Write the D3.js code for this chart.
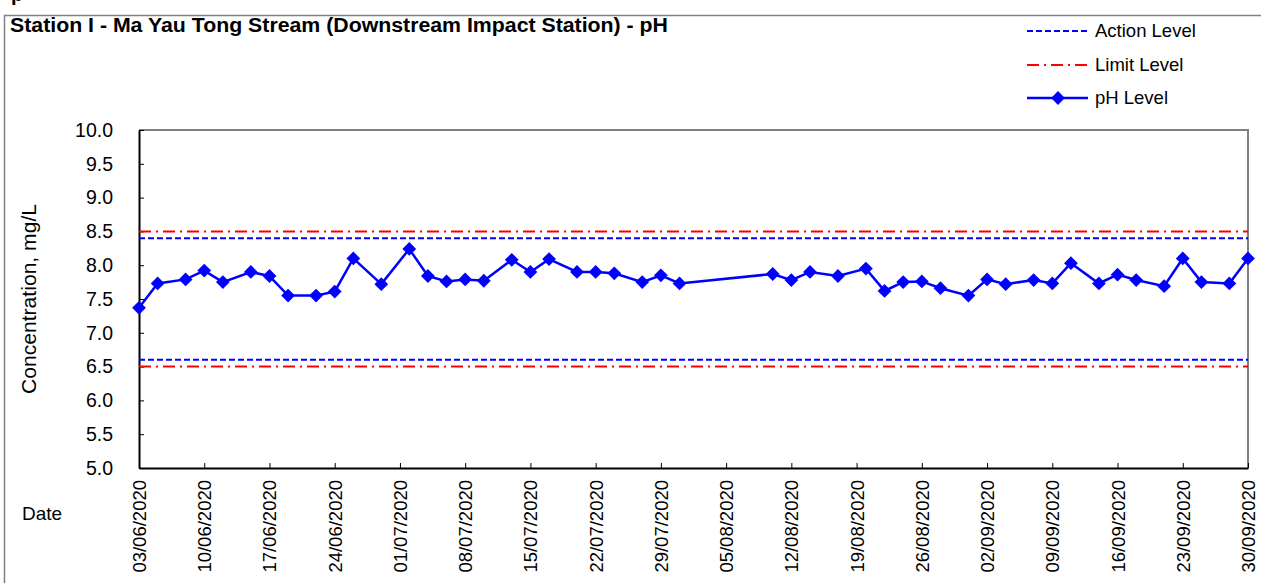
<!DOCTYPE html>
<html>
<head>
<meta charset="utf-8">
<title>Station I - pH</title>
<script src="https://cdn.jsdelivr.net/npm/d3@7"></script>
<style>
  body { margin: 0; background: #fff; }
  text { font-family: Arial, "Liberation Sans", sans-serif; fill: #000; }
</style>
</head>
<body>
<script>
// sampling dates and pH readings
var dates = ["03/06/2020","05/06/2020","08/06/2020","10/06/2020","12/06/2020","15/06/2020","17/06/2020",
  "19/06/2020","22/06/2020","24/06/2020","26/06/2020","29/06/2020","02/07/2020","04/07/2020","06/07/2020",
  "08/07/2020","10/07/2020","13/07/2020","15/07/2020","17/07/2020","20/07/2020","22/07/2020","24/07/2020",
  "27/07/2020","29/07/2020","31/07/2020","10/08/2020","12/08/2020","14/08/2020","17/08/2020","20/08/2020",
  "22/08/2020","24/08/2020","26/08/2020","28/08/2020","31/08/2020","02/09/2020","04/09/2020","07/09/2020",
  "09/09/2020","11/09/2020","14/09/2020","16/09/2020","18/09/2020","21/09/2020","23/09/2020","25/09/2020",
  "28/09/2020","30/09/2020"];
var phValues = [7.37,7.73,7.79,7.92,7.75,7.90,7.84,7.55,7.55,7.61,8.10,7.72,8.24,7.84,7.76,
  7.79,7.77,8.08,7.90,8.09,7.90,7.90,7.88,7.75,7.85,7.73,7.87,7.78,7.90,7.84,7.95,
  7.62,7.75,7.76,7.66,7.55,7.79,7.72,7.78,7.73,8.03,7.73,7.86,7.78,7.69,8.10,7.75,
  7.73,8.10];
var actionLevels = [8.4, 6.6];
var limitLevels = [8.5, 6.5];
var yTicks = [5.0,5.5,6.0,6.5,7.0,7.5,8.0,8.5,9.0,9.5,10.0];
var xTickLabels = ["03/06/2020","10/06/2020","17/06/2020","24/06/2020","01/07/2020","08/07/2020",
  "15/07/2020","22/07/2020","29/07/2020","05/08/2020","12/08/2020","19/08/2020","26/08/2020",
  "02/09/2020","09/09/2020","16/09/2020","23/09/2020","30/09/2020"];
var legendNames = ["Action Level","Limit Level","pH Level"];

var w = 1261, h = 583;
var pLeft = 139, pRight = 1248, pTop = 130, pBottom = 468;
var font = "Arial, 'Liberation Sans', sans-serif";
var parse = d3.timeParse("%d/%m/%Y");

var svg = d3.select("body").append("svg").attr("width", w).attr("height", h);

// outer chart frame
svg.append("path").attr("d", "M4.5," + h + "V15.5H" + w)
  .attr("fill", "none").attr("stroke", "#808080").attr("stroke-width", 1.5);
svg.append("text").attr("x", 11).attr("y", 1).attr("font-size", "20px").attr("font-weight", "bold").text("p");

var x = d3.scaleTime().domain([parse("03/06/2020"), parse("30/09/2020")]).range([pLeft, pRight]);
var y = d3.scaleLinear().domain([5, 10]).range([pBottom, pTop]);

// plot frame (top/right grey)
svg.append("path").attr("d", "M" + pLeft + "," + pTop + "H" + pRight + "V" + pBottom)
  .attr("fill", "none").attr("stroke", "#808080").attr("stroke-width", 2);

// y axis
var yAxis = d3.axisLeft(y).tickValues(yTicks).tickFormat(d3.format(".1f")).tickSizeInner(-5).tickSizeOuter(0).tickPadding(26);
var yg = svg.append("g").attr("transform", "translate(" + pLeft + ",0)").call(yAxis);
yg.select(".domain").attr("stroke", "#000").attr("stroke-width", 2);
yg.selectAll(".tick line").attr("stroke", "#000");
yg.selectAll(".tick text").attr("font-size", "19.5px").attr("font-family", font).attr("fill", "#000");

// x axis
var xAxis = d3.axisBottom(x).tickValues(xTickLabels.map(parse)).tickFormat(d3.timeFormat("%d/%m/%Y")).tickSizeInner(-5).tickSizeOuter(0);
var xg = svg.append("g").attr("transform", "translate(0," + pBottom + ")").call(xAxis);
xg.select(".domain").attr("stroke", "#000").attr("stroke-width", 2);
xg.selectAll(".tick line").attr("stroke", "#000");
xg.selectAll(".tick text")
  .attr("font-size", "18.5px").attr("font-family", font).attr("fill", "#000")
  .attr("transform", "rotate(-90)").attr("text-anchor", "end")
  .attr("x", -12).attr("y", 0).attr("dy", "0.35em");

// threshold lines
svg.selectAll(".limit").data(limitLevels).enter().append("line").attr("class", "limit")
  .attr("x1", pLeft).attr("x2", pRight).attr("y1", function(d){return y(d);}).attr("y2", function(d){return y(d);})
  .attr("stroke", "#ff0000").attr("stroke-width", 2).attr("stroke-dasharray", "12,5,2,5");
svg.selectAll(".action").data(actionLevels).enter().append("line").attr("class", "action")
  .attr("x1", pLeft).attr("x2", pRight).attr("y1", function(d){return y(d);}).attr("y2", function(d){return y(d);})
  .attr("stroke", "#0000ff").attr("stroke-width", 2).attr("stroke-dasharray", "6,3");

// pH series
var data = dates.map(function(d, i){ return {date: parse(d), value: phValues[i]}; });
var line = d3.line().x(function(d){return x(d.date);}).y(function(d){return y(d.value);});
svg.append("path").datum(data).attr("d", line).attr("fill", "none").attr("stroke", "#0000ff").attr("stroke-width", 2.5);
var diamond = d3.symbol().type(d3.symbolSquare).size(95);
svg.selectAll(".pt").data(data).enter().append("path").attr("class", "pt")
  .attr("d", diamond)
  .attr("transform", function(d){return "translate(" + x(d.date) + "," + y(d.value) + ") rotate(45)";})
  .attr("fill", "#0000ff");

// titles
svg.append("text").attr("x", 10).attr("y", 32).attr("font-size", "20px").attr("font-weight", "bold")
  .attr("textLength", 658).attr("lengthAdjust", "spacingAndGlyphs")
  .text("Station I - Ma Yau Tong Stream (Downstream Impact Station) - pH");
svg.append("text").attr("transform", "translate(36,299) rotate(-90)").attr("text-anchor", "middle")
  .attr("font-size", "20px").attr("textLength", 190).attr("lengthAdjust", "spacingAndGlyphs")
  .text("Concentration, mg/L");
svg.append("text").attr("x", 22).attr("y", 520).attr("font-size", "19px").text("Date");

// legend
var lg = svg.append("g");
var ly = [31, 65, 98];
lg.append("line").attr("x1", 1027).attr("x2", 1088).attr("y1", ly[0]).attr("y2", ly[0])
  .attr("stroke", "#0000ff").attr("stroke-width", 2).attr("stroke-dasharray", "6,3");
lg.append("line").attr("x1", 1027).attr("x2", 1088).attr("y1", ly[1]).attr("y2", ly[1])
  .attr("stroke", "#ff0000").attr("stroke-width", 2).attr("stroke-dasharray", "12,5,2,5");
lg.append("line").attr("x1", 1027).attr("x2", 1088).attr("y1", ly[2]).attr("y2", ly[2])
  .attr("stroke", "#0000ff").attr("stroke-width", 2.5);
lg.append("path").attr("d", diamond).attr("transform", "translate(1058," + ly[2] + ") rotate(45)").attr("fill", "#0000ff");
lg.selectAll(".lt").data(legendNames).enter().append("text").attr("class", "lt")
  .attr("x", 1095).attr("y", function(d, i){return ly[i] + 6;}).attr("font-size", "18.5px").text(function(d){return d;});
</script>
</body>
</html>
